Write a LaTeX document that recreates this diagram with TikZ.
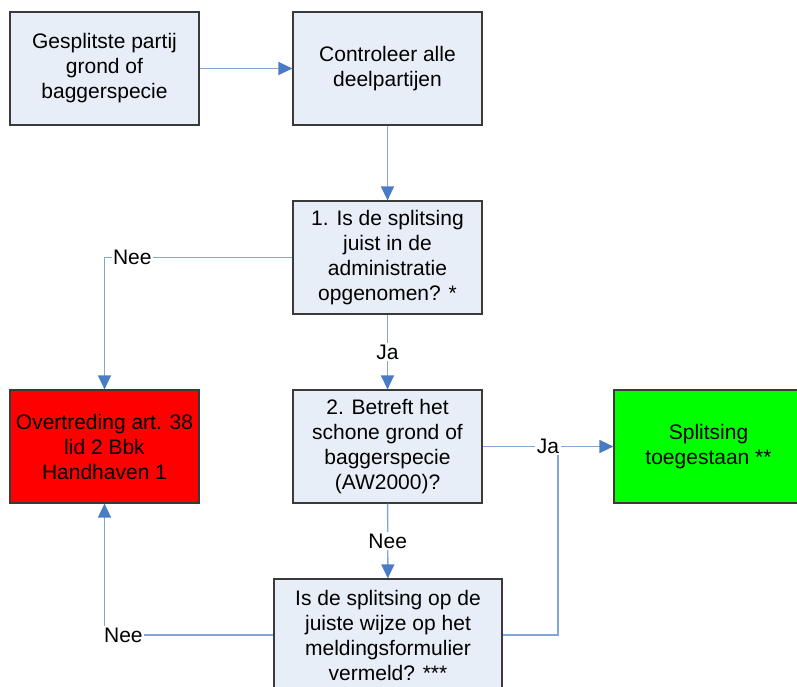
\documentclass[tikz,border=0pt]{standalone}
\usepackage{fontspec}
\setmainfont{Liberation Sans}
\usepackage{tikz}
\usetikzlibrary{arrows.meta,positioning}
\definecolor{vakkleur}{HTML}{E8EEF7}
\definecolor{randkleur}{HTML}{3A3A3A}
\definecolor{lijnkleur}{HTML}{85A5D8}
\definecolor{pijlkleur}{HTML}{4A7CC6}
\definecolor{foutkleur}{HTML}{FF0000}
\definecolor{goedkleur}{HTML}{00FF00}

\begin{document}
\begin{tikzpicture}[x=1pt,y=-1pt,
    stap/.style={draw=randkleur,line width=1.2pt,fill=vakkleur,minimum width=189pt,
      minimum height=113pt,align=center,inner sep=2pt,font=\fontsize{21}{25}\selectfont},
    verbinding/.style={draw=lijnkleur,line width=1.4pt},
    pijl/.style={verbinding,-{Triangle[length=14pt,width=13pt,color=pijlkleur]}},
    keuze/.style={fill=white,inner sep=1.5pt,font=\fontsize{21}{25}\selectfont}]
  \clip (0,0) rectangle (797,687);
  \useasboundingbox (0,0) rectangle (797,687);
  % vakken
  \node[stap] (partij) at (104.5,68.5) {Gesplitste partij\\grond of\\baggerspecie};
  \node[stap] (controle) at (387.5,68.5) {Controleer alle\\deelpartijen};
  \node[stap] (vraag1) at (387.5,257.5) {1. Is de splitsing\\juist in de\\administratie\\opgenomen? *};
  \node[stap,fill=foutkleur] (overtreding) at (104.5,446.5) {Overtreding art. 38\\lid 2 Bbk\\Handhaven 1};
  \node[stap] (vraag2) at (387.5,446.5) {2. Betreft het\\schone grond of\\baggerspecie\\(AW2000)?};
  \node[stap,fill=goedkleur] (toegestaan) at (708.5,446.5) {Splitsing\\toegestaan **};
  \node[stap,minimum width=228pt,minimum height=112pt] (vraag3) at (388,635) {Is de splitsing op de\\juiste wijze op het\\meldingsformulier\\vermeld? ***};
  \coordinate (samen) at (558,446.5);
  % verbindingen
  \draw[pijl] (partij) -- (controle);
  \draw[pijl] (controle) -- (vraag1);
  \draw[pijl] (vraag1.west) -| node[keuze,pos=0.426]{Nee} (overtreding.north);
  \draw[pijl] (vraag1) -- node[keuze]{Ja} (vraag2);
  \draw[verbinding] (vraag3.east) -| (samen);
  \draw[pijl] (vraag2) -- node[keuze,pos=0.5]{Ja} (toegestaan);
  \draw[pijl] (vraag2) -- node[keuze]{Nee} (vraag3);
  \draw[pijl] (vraag3.west) -| node[keuze,pos=0.444]{Nee} (overtreding.south);
\end{tikzpicture}
\end{document}
